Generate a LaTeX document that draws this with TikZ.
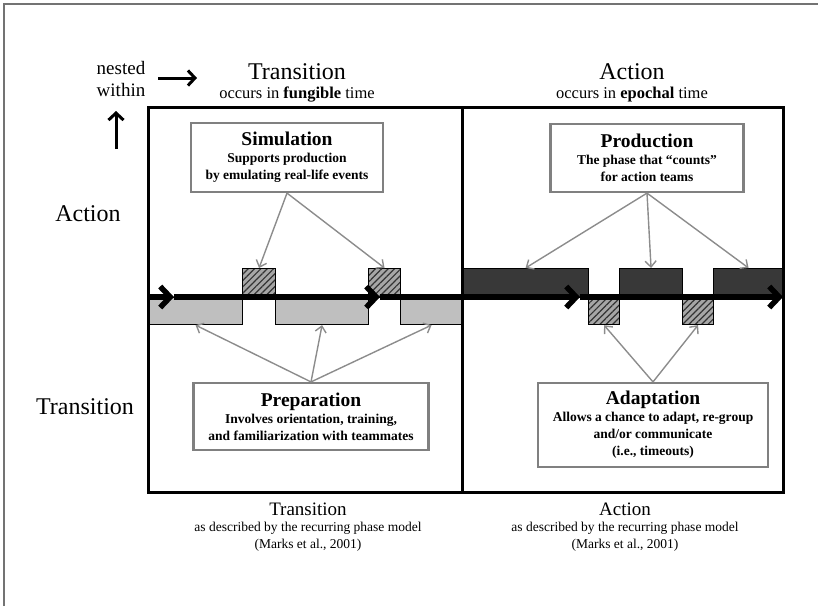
\documentclass[tikz,border=0pt]{standalone}
\usepackage{fontspec}
\setmainfont{Liberation Serif}
\usetikzlibrary{arrows.meta,patterns.meta}

\begin{document}
\begin{tikzpicture}[
    x=1pt, y=-1pt,
    heading/.style={font=\fontsize{24}{28}\selectfont},
    subheading/.style={font=\fontsize{16.5}{19}\selectfont},
    caption/.style={font=\fontsize{19}{22}\selectfont},
    captionsub/.style={
        font=\fontsize{13.5}{17}\selectfont,
        align=center
    },
    phasebox/.style={
        rectangle,
        draw=black!50,
        line width=2.2pt,
        fill=white,
        inner sep=2pt,
        font=\fontsize{13.5}{17}\selectfont\bfseries,
        align=center
    },
    bar/.style={
        rectangle,
        draw=black,
        line width=1.1pt,
        inner sep=0pt,
        anchor=north west
    },
    trbar/.style={bar, fill=black!25, minimum height=27pt},
    actbar/.style={bar, fill=black!78, minimum height=29pt},
    hatchbar/.style={
        bar,
        preaction={fill=black!35},
        pattern={Lines[angle=45, distance=4.5pt, line width=1.2pt]},
        pattern color=black!80
    },
    link/.style={draw=black!45, line width=1.4pt, -{Straight Barb[length=6pt,width=11pt]}},
    timeline/.style={line width=5.5pt, -{Straight Barb[length=10pt,width=21pt]}},
    nestarrow/.style={line width=3pt, -{Straight Barb[length=7pt,width=15pt]}}
]
\useasboundingbox (0,0) rectangle (818,606);

% Outer border
\draw[black!55, line width=1.5pt] (4,606) -- (4,4) -- (818,4);

% Column headings
\node[heading] (trhead) at (297,72) {Transition};
\node[subheading] (trsub) at (297,95) {occurs in \textbf{fungible} time};
\node[heading] (acthead) at (632,72) {Action};
\node[subheading] (actsub) at (632,95) {occurs in \textbf{epochal} time};

% Nesting hint
\node[font=\fontsize{19}{22}\selectfont, align=center] (nested) at (121,79) {nested\\within};
\coordinate (nr0) at (158,78);
\coordinate (nr1) at (197,78);
\coordinate (nu0) at (116,149);
\coordinate (nu1) at (116,111);
\draw[nestarrow] (nr0) -- (nr1);
\draw[nestarrow] (nu0) -- (nu1);

% Row labels
\node[heading] (actrow) at (88,214) {Action};
\node[heading] (trrow) at (85,407) {Transition};

% Transition bars (below the time line)
\node[trbar, minimum width=94pt] (tb1) at (148,297) {};
\node[trbar, minimum width=93pt] (tb2) at (275,297) {};
\node[trbar, minimum width=62pt] (tb3) at (400,297) {};
\node[hatchbar, minimum width=31pt, minimum height=27pt] (hb1) at (588,297) {};
\node[hatchbar, minimum width=31pt, minimum height=27pt] (hb2) at (682,297) {};

% Action bars (above the time line)
\node[hatchbar, minimum width=33pt, minimum height=29pt] (sb1) at (242,268) {};
\node[hatchbar, minimum width=32pt, minimum height=29pt] (sb2) at (368,268) {};
\node[actbar, minimum width=126pt] (ab1) at (462,268) {};
\node[actbar, minimum width=63pt] (ab2) at (619,268) {};
\node[actbar, minimum width=70pt] (ab3) at (713,268) {};

% Panels
\draw[line width=3pt] (148,107) rectangle (783,492);
\draw[line width=3pt] (462,107) -- (462,492);

% Time line
\coordinate (tl0) at (148,297);
\coordinate (tl1) at (174,297);
\coordinate (tl2) at (380,297);
\coordinate (tl3) at (580,297);
\coordinate (tl4) at (783,297);
\draw[timeline] (tl0) -- (tl1);
\draw[timeline] (tl1) -- (tl2);
\draw[timeline] (tl2) -- (tl3);
\draw[timeline] (tl3) -- (tl4);

% Phase boxes
\node[phasebox, minimum width=192pt, minimum height=69pt] (sim) at (287,157.5)
    {{\fontsize{19.5}{20}\selectfont Simulation}\\Supports production\\by emulating real-life events};
\node[phasebox, minimum width=193pt, minimum height=68pt] (prod) at (647,158)
    {{\fontsize{19.5}{20}\selectfont Production}\\The phase that “counts”\\for action teams};
\node[phasebox, minimum width=235pt, minimum height=67pt] (prep) at (311,416.5)
    {{\fontsize{19.5}{20}\selectfont Preparation}\\Involves orientation, training,\\and familiarization with teammates};
\node[phasebox, minimum width=230pt, minimum height=84pt] (adapt) at (653,425)
    {{\fontsize{19.5}{20}\selectfont Adaptation}\\Allows a chance to adapt, re-group\\and/or communicate\\(i.e., timeouts)};

% Links to the bars
\draw[link] (sim.south) -- (sb1.north);
\draw[link] (sim.south) -- (sb2.north);
\draw[link] (prod.south) -- (ab1.north);
\draw[link] (prod.south) -- (ab2.north);
\draw[link] (prod.south) -- (ab3.north);
\draw[link] (prep.north) -- (tb1.south);
\draw[link] (prep.north) -- (tb2.south);
\draw[link] (prep.north) -- (tb3.south);
\draw[link] (adapt.north) -- (hb1.south);
\draw[link] (adapt.north) -- (hb2.south);

% Captions below
\node[caption] (trcap) at (308,509) {Transition};
\node[captionsub] (trcapsub) at (308,537) {as described by the recurring phase model\\(Marks et al., 2001)};
\node[caption] (actcap) at (625,509) {Action};
\node[captionsub] (actcapsub) at (625,537) {as described by the recurring phase model\\(Marks et al., 2001)};

\end{tikzpicture}
\end{document}
